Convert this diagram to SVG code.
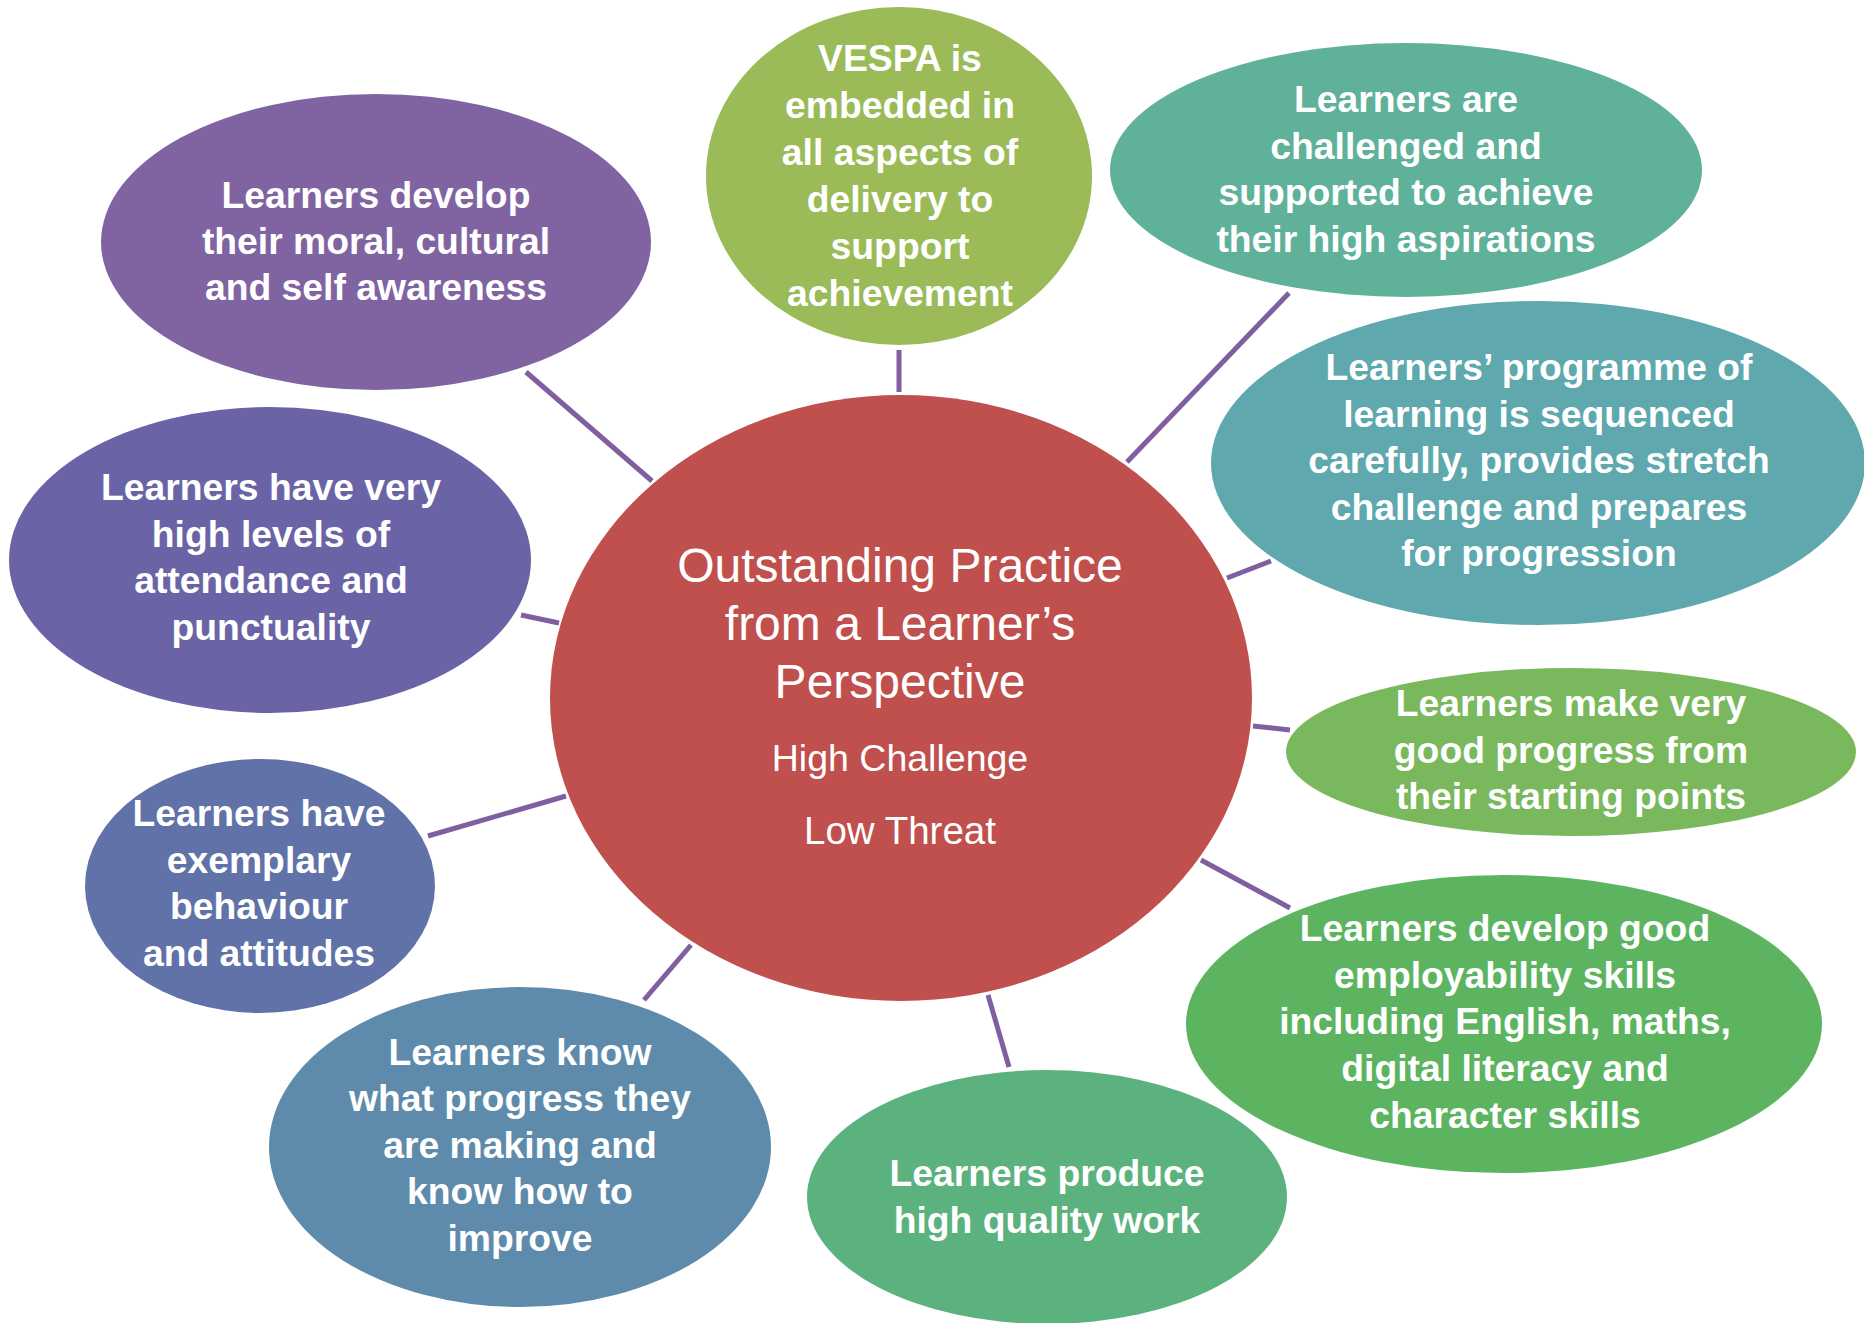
<svg xmlns="http://www.w3.org/2000/svg" width="1864" height="1323" viewBox="0 0 1864 1323">
<style>
.lbl{font-family:"Liberation Sans",Arial,sans-serif;font-weight:bold;font-size:37.3px;fill:#fff;text-anchor:middle}
.ctr{font-family:"Liberation Sans",Arial,sans-serif;fill:#fff;text-anchor:middle}
.conn line{stroke:#7F5FA0;stroke-width:5}
</style>
<rect width="1864" height="1323" fill="#fff"/>
<g id="connectors" class="conn">
<line x1="526" y1="372" x2="652" y2="481"/>
<line x1="899" y1="350" x2="899" y2="392"/>
<line x1="521" y1="615" x2="559" y2="623"/>
<line x1="1289" y1="293" x2="1127" y2="462"/>
<line x1="1271" y1="561" x2="1227" y2="578"/>
<line x1="1253" y1="726" x2="1290" y2="730"/>
<line x1="1201" y1="860" x2="1290" y2="908"/>
<line x1="988" y1="995" x2="1009" y2="1067"/>
<line x1="644" y1="1000" x2="691" y2="945"/>
<line x1="428" y1="836" x2="566" y2="796"/>
</g>
<g id="center">
<ellipse cx="901" cy="698" rx="351" ry="303" fill="#C0504D"/>
<text class="ctr" font-size="48" x="900" y="582">Outstanding Practice</text>
<text class="ctr" font-size="48" x="900" y="640">from a Learner’s</text>
<text class="ctr" font-size="48" x="900" y="698">Perspective</text>
<text class="ctr" font-size="37.5" x="900" y="771">High Challenge</text>
<text class="ctr" font-size="38.5" x="900" y="844">Low Threat</text>
</g>
<g id="moral">
<ellipse cx="376" cy="242" rx="275" ry="148" fill="#8064A2"/>
<text class="lbl" x="376" y="208">Learners develop</text>
<text class="lbl" x="376" y="254">their moral, cultural</text>
<text class="lbl" x="376" y="300">and self awareness</text>
</g>
<g id="vespa">
<ellipse cx="899" cy="176" rx="193" ry="169" fill="#9BBB59"/>
<text class="lbl" x="900" y="71">VESPA is</text>
<text class="lbl" x="900" y="118">embedded in</text>
<text class="lbl" x="900" y="165">all aspects of</text>
<text class="lbl" x="900" y="212">delivery to</text>
<text class="lbl" x="900" y="259">support</text>
<text class="lbl" x="900" y="306">achievement</text>
</g>
<g id="challenged">
<ellipse cx="1406" cy="170" rx="296" ry="127" fill="#5FB19A"/>
<text class="lbl" x="1406" y="112">Learners are</text>
<text class="lbl" x="1406" y="159">challenged and</text>
<text class="lbl" x="1406" y="205">supported to achieve</text>
<text class="lbl" x="1406" y="252">their high aspirations</text>
</g>
<g id="programme">
<ellipse cx="1538" cy="463" rx="327" ry="162" fill="#5EA8AE"/>
<text class="lbl" x="1539" y="380">Learners’ programme of</text>
<text class="lbl" x="1539" y="427">learning is sequenced</text>
<text class="lbl" x="1539" y="473">carefully, provides stretch</text>
<text class="lbl" x="1539" y="520">challenge and prepares</text>
<text class="lbl" x="1539" y="566">for progression</text>
</g>
<g id="attendance">
<ellipse cx="270" cy="560" rx="261" ry="153" fill="#6A64A6"/>
<text class="lbl" x="271" y="500">Learners have very</text>
<text class="lbl" x="271" y="547">high levels of</text>
<text class="lbl" x="271" y="593">attendance and</text>
<text class="lbl" x="271" y="640">punctuality</text>
</g>
<g id="starting">
<ellipse cx="1571" cy="752" rx="285" ry="84" fill="#7AB85D"/>
<text class="lbl" x="1571" y="716">Learners make very</text>
<text class="lbl" x="1571" y="763">good progress from</text>
<text class="lbl" x="1571" y="809">their starting points</text>
</g>
<g id="behaviour">
<ellipse cx="260" cy="886" rx="175" ry="127" fill="#6072A8"/>
<text class="lbl" x="259" y="826">Learners have</text>
<text class="lbl" x="259" y="873">exemplary</text>
<text class="lbl" x="259" y="919">behaviour</text>
<text class="lbl" x="259" y="966">and attitudes</text>
</g>
<g id="employability">
<ellipse cx="1504" cy="1024" rx="318" ry="149" fill="#5CB460"/>
<text class="lbl" x="1505" y="941">Learners develop good</text>
<text class="lbl" x="1505" y="988">employability skills</text>
<text class="lbl" x="1505" y="1034">including English, maths,</text>
<text class="lbl" x="1505" y="1081">digital literacy and</text>
<text class="lbl" x="1505" y="1128">character skills</text>
</g>
<g id="know">
<ellipse cx="520" cy="1147" rx="251" ry="160" fill="#5E8BAB"/>
<text class="lbl" x="520" y="1065">Learners know</text>
<text class="lbl" x="520" y="1111">what progress they</text>
<text class="lbl" x="520" y="1158">are making and</text>
<text class="lbl" x="520" y="1204">know how to</text>
<text class="lbl" x="520" y="1251">improve</text>
</g>
<g id="produce">
<ellipse cx="1047" cy="1197" rx="240" ry="127" fill="#5BB27E"/>
<text class="lbl" x="1047" y="1186">Learners produce</text>
<text class="lbl" x="1047" y="1233">high quality work</text>
</g>
</svg>
